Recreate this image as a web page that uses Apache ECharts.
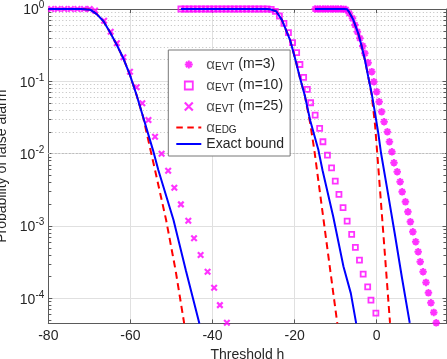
<!DOCTYPE html>
<html><head><meta charset="utf-8">
<script src="https://cdn.jsdelivr.net/npm/echarts@6/dist/echarts.min.js"></script>
<style>html,body{margin:0;padding:0;background:#fff}#c{width:447px;height:359px}</style>
</head><body><div id="c"></div>
<script>
// ---------- data ----------
const xTicks = [-80, -60, -40, -20, 0];
const yMinorTicks = [5e-5,6e-5,7e-5,8e-5,9e-5, 2e-4,3e-4,4e-4,5e-4,6e-4,7e-4,8e-4,9e-4,
  2e-3,3e-3,4e-3,5e-3,6e-3,7e-3,8e-3,9e-3, 2e-2,3e-2,4e-2,5e-2,6e-2,7e-2,8e-2,9e-2,
  0.2,0.3,0.4,0.5,0.6,0.7,0.8,0.9];

// alpha_EVT (m=3)  asterisks
const evt3X = [-15.0,-14.4,-13.8,-13.1,-12.5,-11.9,-11.2,-10.6,-10.0,-9.4,-8.7,-8.1,-7.5,
  -6.7,-5.9,-5.3,-4.7,-4.1,-3.4,-2.9,-2.1,-1.2,-0.7,0.0,0.6,1.2,1.8,2.6,3.1,3.7,4.2,
  5.0,5.7,6.2,7.0,7.6,8.2,8.8,9.5,10.1,10.6,11.3,12.0,12.6,13.2,13.9,14.5];
const evt3Y = [1,1,1,1,1,1,1,1,1,1,1,0.995,0.985,
  0.873,0.743,0.601,0.485,0.394,0.308,0.244,0.181,0.136,0.0987,0.0718,0.0522,0.0380,0.0276,0.0201,0.0146,0.0106,0.00748,
  0.00562,0.00409,0.00297,0.00216,0.00157,0.00114,8.31e-4,6.05e-4,4.40e-4,3.20e-4,2.33e-4,1.66e-4,1.19e-4,8.67e-5,6.38e-5,4.58e-5];

// alpha_EVT (m=10)  squares
const evt10X = [-47.7,-46.7,-45.7,-44.7,-43.7,-42.7,-41.7,-40.7,-39.7,-38.7,-37.7,-36.7,-35.7,-34.7,-33.7,-32.7,
  -31.7,-30.7,-29.7,-28.7,-27.7,-26.7,-25.7,-24.7,
  -23.7,-22.6,-21.5,-20.5,-19.5,-18.7,-17.8,-16.9,-16.1,-15.0,-13.9,-13.1,-12.0,-11.0,-10.1,-9.2,-8.2,-7.2,
  -6.1,-5.2,-4.2,-3.3,-2.2,-1.4,-0.2];
const evt10Y = [1,1,1,1,1,1,1,1,1,1,1,1,1,1,1,1,1,1,1,1,1,1,0.99,0.93,
  0.80,0.634,0.470,0.342,0.249,0.171,0.1135,0.0775,0.0506,0.0342,0.0224,0.0146,0.00957,0.00638,0.00418,0.00274,0.00179,0.00117,
  7.66e-4,5.07e-4,3.37e-4,2.16e-4,1.44e-4,9.44e-5,6.24e-5];

// alpha_EVT (m=25)  crosses
const evt25X = [-79.3,-77.7,-76.1,-74.5,-72.9,-71.3,-69.9,-68.6,
  -66.4,-64.8,-63.3,-61.7,-60.1,-58.5,-57.1,-55.6,-54.0,-52.4,-50.8,-49.3,-47.7,-45.9,-44.5,-42.9,-41.2,-39.6,-38.2,-36.5];
const evt25Y = [1,1,1,1,1,1,1,0.95,
  0.689,0.485,0.336,0.215,0.136,0.0826,0.0497,0.0292,0.0171,0.0100,0.00581,0.00337,0.00199,0.00118,6.75e-4,3.96e-4,2.33e-4,1.40e-4,8.05e-5,4.58e-5];

// alpha_EDG  (three curves)
const edgLeftX  = [-80,-72,-69.8,-68.2,-66.6,-65.0,-63.3,-61.7,-60.1,-58.5,-56.9,-55.1,-54.0,-51.3,-49.0,-46.9];
const edgLeftY  = [1,1,0.98,0.851,0.682,0.481,0.318,0.2065,0.122,0.0646,0.0321,0.0112,0.00593,0.00121,2.45e-4,4.5e-5];
const edgMidX   = [-47.7,-27.0,-26.0,-24.5,-23.1,-22.1,-21.1,-19.9,-18.7,-17.5,-16.2,-15.2,-12.4,-9.6];
const edgMidY   = [1,1,0.99,0.933,0.708,0.513,0.372,0.209,0.112,0.0631,0.0263,0.0112,7.08e-4,4.5e-5];
const edgRightX = [-15.0,-8.0,-7.2,-6.75,-5.7,-4.48,-3.65,-2.85,-2.05,-1.22,-0.41,0.07,1.66,3.24];
const edgRightY = [1,1,0.99,0.912,0.708,0.457,0.302,0.195,0.115,0.0646,0.0251,0.0112,7.24e-4,4.57e-5];

// Exact bound (three curves)
const exLeftX  = [-80,-72,-69.8,-68.2,-66.6,-65.0,-63.3,-61.7,-60.1,-58.5,-56.9,-54.5,-53.2,-49.5,-46.5,-43.2];
const exLeftY  = [1,1,0.98,0.851,0.682,0.481,0.318,0.2065,0.122,0.0646,0.0321,0.0112,0.00593,0.00121,2.45e-4,4.5e-5];
const exMidX   = [-47.7,-27.0,-26.0,-24.5,-23.1,-22.1,-21.1,-19.9,-18.7,-17.5,-16.2,-14.2,-13.2,-10.6,-8.1,-6.3,-5.0];
const exMidY   = [1,1,0.99,0.933,0.708,0.513,0.372,0.209,0.112,0.0631,0.0288,0.0112,0.00589,0.00135,2.75e-4,1.17e-4,4.5e-5];
const exRightX = [-15.0,-8.0,-7.2,-6.75,-5.7,-4.48,-3.65,-2.85,-2.05,-1.22,-0.41,0.39,1.05,2.73,4.38,6.16,8.04];
const exRightY = [1,1,0.99,0.912,0.708,0.457,0.302,0.195,0.115,0.0676,0.0363,0.0191,0.0102,0.00285,7.94e-4,1.91e-4,4.57e-5];

// ---------- chart ----------
const pts = (xs, ys) => xs.map((x, i) => [x, ys[i]]);
const FONT = '"Liberation Sans", Arial, Helvetica, sans-serif';
const TXT = '#262626';
const AX = '#5a5a5a';
const MAG = '#ff00ff';
const starPath = 'path://M5,0L5,10M0,5L10,5M1.5,1.5L8.5,8.5M1.5,8.5L8.5,1.5';
const crossPath = 'path://M0,0L10,10M0,10L10,0';
const squarePath = 'path://M0,0L10,0L10,10L0,10Z';
const XMIN = -80, XMAX = 17, YMIN = 4.5e-5, YMAX = 1;
const dash = [7, 4.5];
const hidden = {color: 'rgba(0,0,0,0)', borderColor: 'rgba(0,0,0,0)', borderWidth: 0, opacity: 0};

const labels = {
  m3: '{a|α}{s|EVT}{t| (m=3)}',
  m10: '{a|α}{s|EVT}{t| (m=10)}',
  m25: '{a|α}{s|EVT}{t| (m=25)}',
  edg: '{a|α}{s|EDG}',
  exact: '{e|Exact bound}'
};

const chart = echarts.init(document.getElementById('c'), null, {renderer: 'canvas'});
const lineSeries = (name, xs, ys, color, type) => ({
  type: 'line', name, data: pts(xs, ys), symbol: 'none', showSymbol: false,
  lineStyle: {color, width: 2, type}, itemStyle: {color}, z: 3, silent: true
});

const option = {
  animation: false,
  textStyle: {fontFamily: FONT},
  grid: {left: 48.3, top: 9, width: 398.2, height: 314.4, containLabel: false, outerBoundsMode: 'none'},
  xAxis: [{
    type: 'value', min: XMIN, max: XMAX, interval: 20, position: 'bottom',
    name: 'Threshold h', nameLocation: 'middle', nameGap: 22,
    nameTextStyle: {fontSize: 14, color: TXT, fontFamily: FONT},
    axisLine: {onZero: false, lineStyle: {color: AX, width: 1}},
    axisTick: {inside: true, length: 4, lineStyle: {color: AX}},
    axisLabel: {fontSize: 14, color: TXT, margin: 6, showMaxLabel: false, fontFamily: FONT,
      formatter: v => (xTicks.indexOf(v) >= 0 ? String(v) : '')},
    splitLine: {show: true, lineStyle: {color: '#e0e0e0', width: 1}}
  }, {
    type: 'value', min: XMIN, max: XMAX, interval: 20, position: 'top',
    axisLine: {onZero: false, lineStyle: {color: AX, width: 1}},
    axisTick: {inside: true, length: 4, lineStyle: {color: AX}},
    axisLabel: {show: false}, splitLine: {show: false}
  }],
  yAxis: [{
    type: 'log', logBase: 10, min: YMIN, max: YMAX, position: 'left',
    name: 'Probability of false alarm', nameLocation: 'middle', nameGap: 34,
    nameTextStyle: {fontSize: 14, color: TXT, fontFamily: FONT},
    axisLine: {show: true, onZero: false, lineStyle: {color: AX, width: 1}},
    axisTick: {show: true, inside: true, length: 4, lineStyle: {color: AX}},
    axisLabel: {
      showMinLabel: false, margin: 4,
      formatter: v => '{b|10}{e|' + Math.round(Math.log10(v)) + '}',
      rich: {
        b: {fontSize: 14, color: TXT, fontFamily: FONT, padding: [3, 0, 0, 0], verticalAlign: 'bottom'},
        e: {fontSize: 10, color: TXT, fontFamily: FONT, verticalAlign: 'top'}
      }
    },
    splitLine: {show: true, lineStyle: {color: '#e0e0e0', width: 1}}
  }, {
    type: 'log', logBase: 10, min: YMIN, max: YMAX, position: 'right',
    axisLine: {show: true, onZero: false, lineStyle: {color: AX, width: 1}},
    axisTick: {show: true, inside: true, length: 4, lineStyle: {color: AX}},
    axisLabel: {show: false}, splitLine: {show: false}
  }],
  legend: {
    orient: 'vertical', left: 168.3, top: 50,
    padding: [3, 6, 5, 7], itemGap: 2, itemWidth: 25, itemHeight: 8,
    backgroundColor: '#ffffff', borderColor: '#777777', borderWidth: 1, borderRadius: 0,
    selectedMode: false, symbolKeepAspect: true,
    formatter: name => labels[name],
    textStyle: {
      fontSize: 14, color: TXT, fontFamily: FONT,
      rich: {
        a: {fontSize: 15, lineHeight: 15, color: '#555', fontFamily: FONT, verticalAlign: 'top'},
        s: {fontSize: 10, lineHeight: 11, color: TXT, fontFamily: FONT, padding: [9, 0, 0, 0], verticalAlign: 'bottom'},
        t: {fontSize: 14, lineHeight: 15, color: TXT, fontFamily: FONT, verticalAlign: 'top'},
        e: {fontSize: 14, lineHeight: 15, color: TXT, fontFamily: FONT}
      }
    },
    data: [
      {name: 'm3', icon: starPath, itemStyle: {color: MAG, borderColor: MAG, borderWidth: 2}},
      {name: 'm10', icon: squarePath, itemStyle: {color: 'rgba(0,0,0,0)', borderColor: MAG, borderWidth: 1.8}},
      {name: 'm25', icon: crossPath, itemStyle: {color: MAG, borderColor: MAG, borderWidth: 2.2}},
      {name: 'edg', itemStyle: hidden, lineStyle: {color: '#ff0000', width: 2, type: [6.5, 4.5]}},
      {name: 'exact', itemStyle: hidden, lineStyle: {color: '#0000ff', width: 2, type: 'solid'}}
    ]
  },
  series: [
    // minor grid (dotted) and minor ticks
    {
      type: 'line', name: '_minorgrid', data: [[XMIN, YMAX]], symbol: 'none', silent: true, z: 1,
      lineStyle: {opacity: 0},
      markLine: {
        silent: true, symbol: 'none', z: 1, animation: false, label: {show: false},
        lineStyle: {type: [1, 2.5], color: '#bdbdbd', width: 1},
        data: yMinorTicks.map(v => ({yAxis: v}))
      }
    },
    {
      type: 'line', name: '_minorticks', data: [[XMIN, YMAX]], symbol: 'none', silent: true, z: 4,
      lineStyle: {opacity: 0},
      markLine: {
        silent: true, symbol: 'none', z: 4, animation: false, label: {show: false},
        lineStyle: {type: 'solid', color: AX, width: 1},
        data: yMinorTicks.flatMap(v => [
          [{coord: [XMIN, v]}, {coord: [XMIN + 0.75, v]}],
          [{coord: [XMAX - 0.75, v]}, {coord: [XMAX, v]}]
        ])
      }
    },
    {type: 'scatter', name: 'm3', data: pts(evt3X, evt3Y), symbol: starPath, symbolSize: 7.5, z: 2,
      itemStyle: {color: MAG, borderColor: MAG, borderWidth: 2}, silent: true},
    {type: 'scatter', name: 'm10', data: pts(evt10X, evt10Y), symbol: squarePath, symbolSize: 5, z: 2,
      itemStyle: {color: 'rgba(0,0,0,0)', borderColor: MAG, borderWidth: 1.8}, silent: true},
    {type: 'scatter', name: 'm25', data: pts(evt25X, evt25Y), symbol: crossPath, symbolSize: 5.5, z: 2,
      itemStyle: {color: MAG, borderColor: MAG, borderWidth: 2.2}, silent: true},
    lineSeries('edg', edgLeftX, edgLeftY, '#ff0000', dash),
    lineSeries('edg', edgMidX, edgMidY, '#ff0000', dash),
    lineSeries('edg', edgRightX, edgRightY, '#ff0000', dash),
    lineSeries('exact', exLeftX, exLeftY, '#0000ff', 'solid'),
    lineSeries('exact', exMidX, exMidY, '#0000ff', 'solid'),
    lineSeries('exact', exRightX, exRightY, '#0000ff', 'solid')
  ]
};
chart.setOption(option);
</script>
</body></html>
